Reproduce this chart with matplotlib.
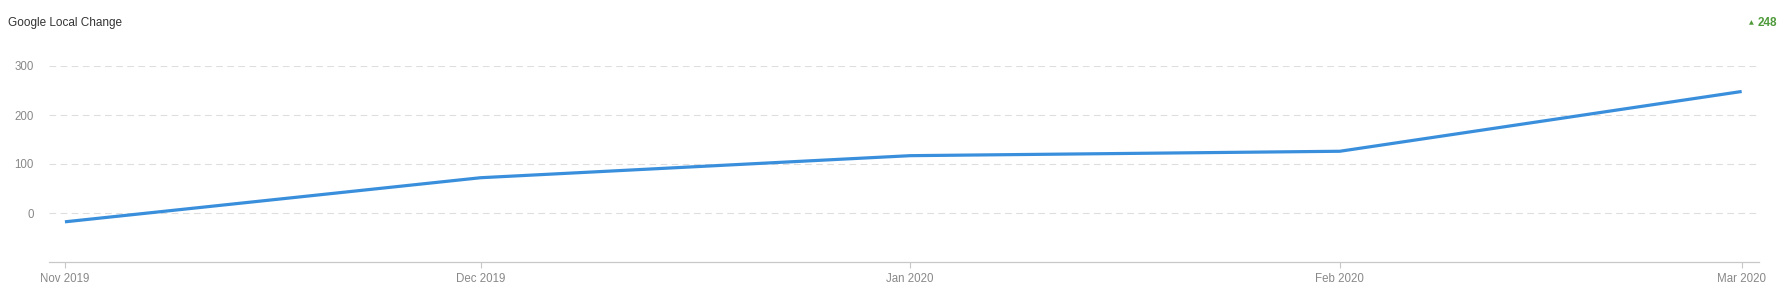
import matplotlib
matplotlib.use("Agg")
import matplotlib.pyplot as plt
import matplotlib.dates as mdates
import datetime as dt

plt.rcParams['font.family'] = ['Liberation Sans', 'DejaVu Sans']

dates = [dt.date(2019, 11, 1), dt.date(2019, 12, 1), dt.date(2020, 1, 1),
         dt.date(2020, 2, 1), dt.date(2020, 3, 1)]
values = [-18, 72, 117, 126, 248]
tick_labels = ["Nov 2019", "Dec 2019", "Jan 2020", "Feb 2020", "Mar 2020"]
y_ticks = [0, 100, 200, 300]
title = "Google Local Change"
change_value = "248"

W, H = 1783, 302
fig = plt.figure(figsize=(W / 100, H / 100), dpi=100)
ax = fig.add_axes([49 / W, 1 - 262 / H, (1759 - 49) / W, (262 - 66) / H])

x = mdates.date2num(dates)
ax.plot(x, values, color="#3a8fdc", linewidth=2.3, solid_capstyle="butt", zorder=3)

ax.set_xlim(x[0] - 1.15, x[-1] + 1.25)
ax.set_ylim(-100, 300)

ax.set_yticks(y_ticks)
ax.set_yticklabels([str(v) for v in y_ticks])
ax.set_xticks(x)
ax.set_xticklabels(tick_labels)

for v in y_ticks:
    ax.axhline(v, color="#dedede", linewidth=0.8, linestyle=(0, (6, 4)), zorder=1)

for s in ["top", "right", "left"]:
    ax.spines[s].set_visible(False)
ax.spines["bottom"].set_color("#c8c8c8")
ax.spines["bottom"].set_linewidth(0.9)

ax.tick_params(axis="y", length=0, pad=11, labelsize=8.3, labelcolor="#888888")
ax.tick_params(axis="x", length=4, width=0.8, color="#c8c8c8", pad=4,
               labelsize=8.3, labelcolor="#888888")

fig.text(8 / W, 1 - 23 / H, title, fontsize=8.5, color="#333333", va="center", ha="left")
fig.text(1777 / W, 1 - 22.5 / H, change_value, fontsize=8.5, color="#4e9a3a",
         va="center", ha="right", fontweight="bold")
fig.text(1754 / W, 1 - 22.5 / H, "\u25b2", fontsize=4.5, color="#4e9a3a",
         va="center", ha="right", family=["DejaVu Sans"])

fig.savefig("out.png", dpi=100, facecolor="white")
